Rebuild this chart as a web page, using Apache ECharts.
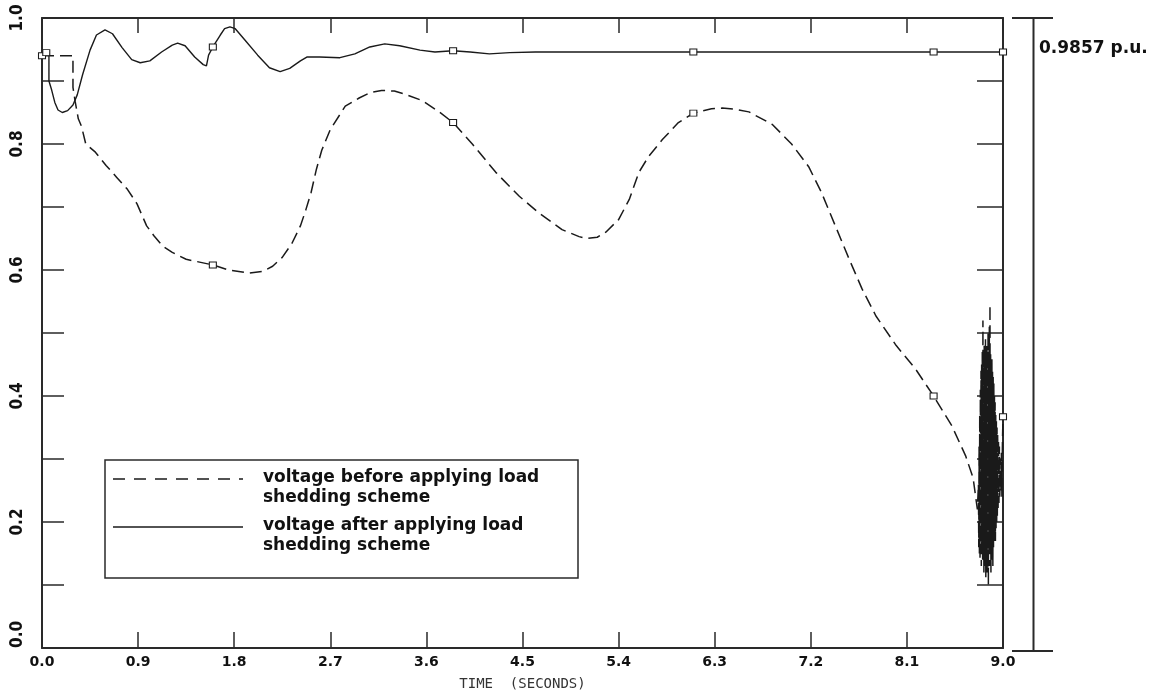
<!DOCTYPE html>
<html>
<head>
<meta charset="utf-8">
<script src="https://cdn.jsdelivr.net/npm/echarts@6/dist/echarts.min.js"></script>
<style>
html,body{margin:0;padding:0;background:#fff;}
#chart{width:1154px;height:696px;}
</style>
</head>
<body>
<div id="chart"></div>
<script>
// ---- data ----
const beforeTime = [0, 0.29, 0.29, 0.31, 0.34, 0.37, 0.41, 0.5, 0.6, 0.7, 0.8, 0.89, 0.98, 1.05, 1.13, 1.22, 1.35, 1.6, 1.75, 1.94, 2.07, 2.16, 2.25, 2.34, 2.42, 2.47, 2.52, 2.57, 2.62, 2.7, 2.84, 2.97, 3.08, 3.18, 3.3, 3.4, 3.56, 3.72, 3.85, 4.03, 4.25, 4.47, 4.65, 4.87, 5.03, 5.1, 5.2, 5.28, 5.4, 5.5, 5.59, 5.68, 5.81, 5.96, 6.1, 6.27, 6.37, 6.5, 6.62, 6.84, 7.02, 7.18, 7.3, 7.43, 7.56, 7.68, 7.81, 8.0, 8.18, 8.35, 8.52, 8.65, 8.72, 8.76,
  8.77, 8.773, 8.776, 8.779, 8.782, 8.785, 8.788, 8.791, 8.794, 8.797,
  8.8, 8.803, 8.806, 8.809, 8.812, 8.815, 8.818, 8.821, 8.824, 8.827,
  8.83, 8.833, 8.836, 8.839, 8.842, 8.845, 8.848, 8.851, 8.854, 8.857,
  8.86, 8.863, 8.866, 8.869, 8.872, 8.875, 8.878, 8.881, 8.884, 8.887,
  8.89, 8.893, 8.896, 8.899, 8.902, 8.905, 8.908, 8.911, 8.914, 8.917,
  8.92, 8.923, 8.926, 8.929, 8.932, 8.935, 8.938, 8.941, 8.944, 8.947,
  8.95, 8.954, 8.958, 8.962, 8.966, 8.97, 8.975, 8.98, 8.985, 8.99, 8.995, 9.0];
const beforeVolt = [0.94, 0.94, 0.89, 0.868, 0.84, 0.828, 0.80, 0.787, 0.766, 0.747, 0.728, 0.705, 0.67, 0.654, 0.638, 0.628, 0.617, 0.608, 0.60, 0.595, 0.598, 0.606, 0.62, 0.642, 0.67, 0.695, 0.723, 0.76, 0.79, 0.823, 0.86, 0.873, 0.882, 0.885, 0.884, 0.879, 0.869, 0.851, 0.834, 0.80, 0.755, 0.717, 0.691, 0.664, 0.653, 0.65, 0.652, 0.66, 0.68, 0.712, 0.755, 0.78, 0.807, 0.834, 0.849, 0.856, 0.857, 0.855, 0.851, 0.831, 0.80, 0.764, 0.723, 0.67, 0.617, 0.57, 0.527, 0.48, 0.443, 0.40, 0.353, 0.305, 0.27, 0.22,
  0.26, 0.16, 0.32, 0.15, 0.37, 0.14, 0.41, 0.15, 0.44, 0.13,
  0.45, 0.16, 0.47, 0.14, 0.52, 0.15, 0.46, 0.12, 0.48, 0.14,
  0.47, 0.13, 0.49, 0.11, 0.46, 0.13, 0.48, 0.12, 0.47, 0.14,
  0.50, 0.10, 0.46, 0.15, 0.51, 0.13, 0.545, 0.15, 0.47, 0.12,
  0.45, 0.14, 0.46, 0.15, 0.44, 0.13, 0.43, 0.16, 0.42, 0.17,
  0.40, 0.18, 0.39, 0.17, 0.37, 0.19, 0.36, 0.20, 0.35, 0.21,
  0.34, 0.22, 0.33, 0.23, 0.32, 0.24, 0.30, 0.25, 0.31, 0.24, 0.33, 0.367];
const afterTime = [0, 0.04, 0.065, 0.065, 0.09, 0.12, 0.15, 0.19, 0.24, 0.29, 0.33, 0.38, 0.45, 0.51, 0.59, 0.66, 0.75, 0.84, 0.92, 1.01, 1.12, 1.22, 1.27, 1.34, 1.43, 1.51, 1.54, 1.56, 1.6, 1.67, 1.71, 1.76, 1.81, 1.9, 2.02, 2.13, 2.23, 2.32, 2.42, 2.48, 2.6, 2.79, 2.93, 3.07, 3.21, 3.35, 3.54, 3.68, 3.85, 4.01, 4.19, 4.38, 4.62, 5.0, 5.5, 6.1, 7.0, 8.35, 9.0];
const afterVolt = [0.945, 0.945, 0.945, 0.90, 0.886, 0.866, 0.854, 0.85, 0.853, 0.862, 0.878, 0.91, 0.949, 0.973, 0.981, 0.975, 0.953, 0.934, 0.929, 0.932, 0.946, 0.957, 0.96, 0.956, 0.938, 0.926, 0.924, 0.941, 0.954, 0.973, 0.983, 0.986, 0.983, 0.965, 0.941, 0.921, 0.915, 0.92, 0.932, 0.938, 0.938, 0.937, 0.943, 0.954, 0.959, 0.956, 0.949, 0.946, 0.948, 0.946, 0.943, 0.945, 0.946, 0.946, 0.946, 0.946, 0.946, 0.946, 0.946];
const markerTimesBefore = [0, 1.6, 3.85, 6.1, 8.35, 9.0];
const markerTimesAfter = [0.04, 1.6, 3.85, 6.1, 8.35, 9.0];
const seriesNames = ['voltage before applying load\nshedding scheme', 'voltage after applying load\nshedding scheme'];
const xAxisTitle = 'TIME  (SECONDS)';
const finalValueLabel = '0.9857 p.u.';

function buildData(times, volts, marks) {
  return times.map((t, i) => {
    const item = { value: [t, volts[i]] };
    if (marks.indexOf(t) >= 0) {
      item.symbol = 'rect';
      item.symbolSize = [7, 6];
    }
    return item;
  });
}

const INK = '#1a1a1a';
const chart = echarts.init(document.getElementById('chart'), null, { renderer: 'canvas' });

const axisLineStyle = { color: '#2a2a2a', width: 2 };
const tickStyle = { color: '#2a2a2a', width: 1.5 };
const option = {
  backgroundColor: '#fff',
  animation: false,
  grid: { left: 42, right: 151, top: 18, bottom: 45, containLabel: false },
  xAxis: [
    {
      type: 'value', position: 'bottom', min: 0, max: 9, interval: 0.9,
      axisLine: { show: true, onZero: false, lineStyle: axisLineStyle },
      axisTick: { show: true, inside: true, length: 16, lineStyle: tickStyle },
      axisLabel: { margin: 7, color: '#111', fontFamily: 'DejaVu Sans, sans-serif', fontWeight: 'bold', fontSize: 14,
        formatter: v => v.toFixed(1) },
      splitLine: { show: false },
      name: xAxisTitle, nameLocation: 'middle', nameGap: 29,
      nameTextStyle: { fontFamily: 'DejaVu Sans Mono, monospace', fontSize: 14, color: '#333' }
    },
    {
      type: 'value', position: 'top', min: 0, max: 9, interval: 0.9,
      axisLine: { show: true, onZero: false, lineStyle: axisLineStyle },
      axisTick: { show: true, inside: true, length: 15, lineStyle: tickStyle },
      axisLabel: { show: false }, splitLine: { show: false }
    }
  ],
  yAxis: [
    {
      type: 'value', position: 'left', min: 0, max: 1, interval: 0.1,
      axisLine: { show: true, onZero: false, lineStyle: axisLineStyle },
      axisTick: { show: true, inside: true, length: 22, lineStyle: tickStyle },
      axisLabel: { rotate: 90, margin: 16, color: '#111', fontFamily: 'Liberation Sans Narrow, DejaVu Sans Condensed, sans-serif', fontWeight: 'bold', fontSize: 17,
        alignMinLabel: 'left',
        formatter: v => (Math.round(v * 10) % 2 === 0 ? v.toFixed(1) : '') },
      splitLine: { show: false }
    },
    {
      type: 'value', position: 'right', min: 0, max: 1, interval: 0.1,
      axisLine: { show: true, onZero: false, lineStyle: axisLineStyle },
      axisTick: { show: true, inside: true, length: 26, lineStyle: tickStyle },
      axisLabel: { show: false }, splitLine: { show: false }
    }
  ],
  series: [
    {
      name: seriesNames[0], type: 'line', xAxisIndex: 0, yAxisIndex: 0,
      data: buildData(beforeTime, beforeVolt, markerTimesBefore),
      symbol: 'none', showSymbol: true, smooth: false,
      lineStyle: { color: INK, width: 1.5, type: [12, 6] },
      itemStyle: { color: '#fff', borderColor: INK, borderWidth: 1 },
      emphasis: { disabled: true }, z: 3
    },
    {
      name: seriesNames[1], type: 'line', xAxisIndex: 0, yAxisIndex: 0,
      data: buildData(afterTime, afterVolt, markerTimesAfter),
      symbol: 'none', showSymbol: true, smooth: false,
      lineStyle: { color: INK, width: 1.4 },
      itemStyle: { color: '#fff', borderColor: INK, borderWidth: 1 },
      emphasis: { disabled: true }, z: 4
    }
  ],
  graphic: [
    // outer right scale bracket
    { type: 'line', shape: { x1: 1033.5, y1: 18, x2: 1033.5, y2: 651 }, style: { stroke: '#2a2a2a', lineWidth: 2 }, silent: true },
    { type: 'line', shape: { x1: 1012, y1: 18, x2: 1053, y2: 18 }, style: { stroke: '#2a2a2a', lineWidth: 2 }, silent: true },
    { type: 'line', shape: { x1: 1012, y1: 651, x2: 1053, y2: 651 }, style: { stroke: '#2a2a2a', lineWidth: 2 }, silent: true },
    { type: 'text', left: 1039, top: 40, style: { text: finalValueLabel, fill: '#111', font: 'bold 17px "DejaVu Sans", sans-serif' }, silent: true },
    // legend box
    { type: 'rect', shape: { x: 105, y: 460, width: 473, height: 118 }, style: { fill: '#fff', stroke: '#2a2a2a', lineWidth: 1.5 }, z: 10, silent: true },
    { type: 'line', shape: { x1: 113, y1: 479, x2: 243, y2: 479 }, style: { stroke: INK, lineWidth: 1.4, lineDash: [12, 9] }, z: 11, silent: true },
    { type: 'line', shape: { x1: 113, y1: 527, x2: 243, y2: 527 }, style: { stroke: INK, lineWidth: 1.4 }, z: 11, silent: true },
    { type: 'text', x: 263, y: 468, style: { text: seriesNames[0], fill: '#111', font: 'bold 17px "DejaVu Sans", sans-serif', lineHeight: 20 }, z: 11, silent: true },
    { type: 'text', x: 263, y: 516, style: { text: seriesNames[1], fill: '#111', font: 'bold 17px "DejaVu Sans", sans-serif', lineHeight: 20 }, z: 11, silent: true }
  ]
};
chart.setOption(option);
</script>
</body>
</html>
